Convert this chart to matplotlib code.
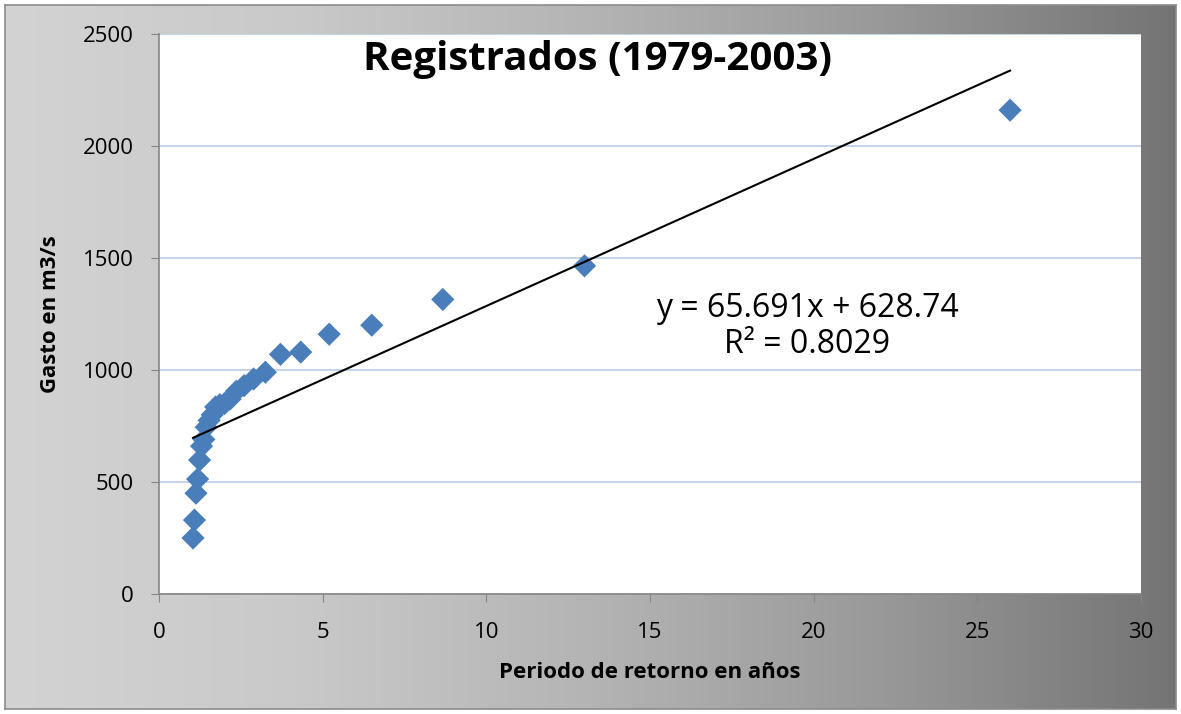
#!/usr/bin/env python3
# coding: utf-8
import numpy as np
import matplotlib as mpl
mpl.use('agg')
import matplotlib.pyplot as plt

# return period (years) and recorded flow (m3/s)
periodo = [26.0, 13.0, 8.67, 6.5, 5.2, 4.33, 3.71, 3.25, 2.89, 2.6, 2.36, 2.17, 2.0,
           1.86, 1.73, 1.625, 1.53, 1.44, 1.37, 1.3, 1.24, 1.18, 1.13, 1.083, 1.04]
gasto = [2160, 1465, 1315, 1200, 1160, 1080, 1070, 990, 960, 930, 905, 870, 850,
         845, 835, 800, 775, 745, 690, 660, 598, 513, 450, 330, 250]

# linear trend as reported on the chart
pendiente = 65.691
ordenada = 628.74
r2 = 0.8029

W, H = 1181, 714
plt.rcParams['font.family'] = ['Open Sans', 'DejaVu Sans']

fig = plt.figure(figsize=(W / 100, H / 100), dpi=100)
fig.patch.set_facecolor('white')

# gray gradient background of the chart area
bg = fig.add_axes([5 / W, 5 / H, 1 - 10 / W, 1 - 10 / H])
grad = np.linspace(0, 1, 256).reshape(1, -1)
cmap = mpl.colors.LinearSegmentedColormap.from_list('g', ['#d3d3d3', '#c9c9c9', '#b4b4b4', '#999999', '#747474'])
bg.imshow(grad, aspect='auto', cmap=cmap, extent=[0, 1, 0, 1])
bg.set_xlim(0, 1)
bg.set_ylim(0, 1)
bg.set_xticks([])
bg.set_yticks([])
for s in bg.spines.values():
    s.set_color('#8c8c8c')
    s.set_linewidth(1.2)
bg.set_zorder(0)

ax = fig.add_axes([159 / W, 120 / H, 982 / W, 560 / H])
ax.set_zorder(1)
ax.set_facecolor('white')

ax.set_xlim(0, 30)
ax.set_ylim(0, 2500)
ax.set_xticks(range(0, 31, 5))
ax.set_yticks(range(0, 2501, 500))
ax.yaxis.grid(True, color='#b9cde5', linewidth=1.2)
ax.set_axisbelow(True)
for side in ['top', 'right']:
    ax.spines[side].set_visible(False)
for side in ['left', 'bottom']:
    ax.spines[side].set_color('#868686')
    ax.spines[side].set_linewidth(1.2)
ax.tick_params(direction='out', length=6, color='#868686', labelsize=16)
ax.tick_params(axis='y', pad=12)
ax.tick_params(axis='x', pad=14)

ax.scatter(periodo, gasto, marker='D', s=140, color='#4a7ebb', edgecolors='none', zorder=3)

xs = np.array([min(periodo), max(periodo)])
ax.plot(xs, pendiente * xs + ordenada, color='black', linewidth=1.5, zorder=4)

ax.text(13.4, 2475, 'Registrados (1979-2003)', ha='center', va='top',
        fontsize=29, fontweight='bold')
ax.text(19.8, 1195, 'y = 65.691x + 628.74\nR² = 0.8029', ha='center', va='center',
        fontsize=23, linespacing=1.1)

ax.set_xlabel('Periodo de retorno en años', fontsize=16, fontweight='bold', labelpad=14)
ax.set_ylabel('Gasto en m3/s', fontsize=16, fontweight='bold', labelpad=16)

fig.savefig('out.png', dpi=100)
